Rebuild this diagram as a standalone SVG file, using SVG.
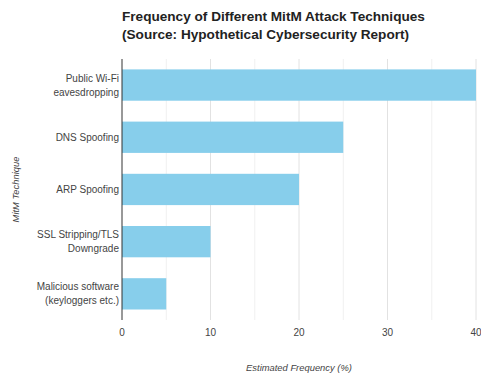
<svg xmlns="http://www.w3.org/2000/svg" width="481" height="374" viewBox="0 0 481 374">
  <style>
    text { font-family: "Liberation Sans", Arial, sans-serif; fill: #444; }
    .title { font-size: 13.6px; font-weight: bold; fill: #222; }
    .cat { font-size: 10px; text-anchor: end; }
    .tick { font-size: 10px; text-anchor: middle; }
    .axis-title { font-size: 9.4px; font-style: italic; text-anchor: middle; }
    .grid-major { stroke: #e2e2e2; stroke-width: 1; }
    .grid-minor { stroke: #f0f0f0; stroke-width: 1; }
    .bar { fill: #87ceeb; }
  </style>
  <rect width="481" height="374" fill="#fff"/>

  <g id="title">
    <text class="title" x="122" y="21">Frequency of Different MitM Attack Techniques</text>
    <text class="title" x="122" y="39">(Source: Hypothetical Cybersecurity Report)</text>
  </g>

  <!-- vertical gridlines every 5 units (10 units = 88.5px) -->
  <g id="grid">
    <line class="grid-minor" x1="166.25" y1="59" x2="166.25" y2="320"/>
    <line class="grid-major" x1="210.5" y1="59" x2="210.5" y2="320"/>
    <line class="grid-minor" x1="254.75" y1="59" x2="254.75" y2="320"/>
    <line class="grid-major" x1="299" y1="59" x2="299" y2="320"/>
    <line class="grid-minor" x1="343.25" y1="59" x2="343.25" y2="320"/>
    <line class="grid-major" x1="387.5" y1="59" x2="387.5" y2="320"/>
    <line class="grid-minor" x1="431.75" y1="59" x2="431.75" y2="320"/>
    <line class="grid-major" x1="476" y1="59" x2="476" y2="320"/>
  </g>

  <g id="bar-public-wifi">
    <rect class="bar" x="122" y="69.4" width="354" height="31.3"/>
    <text class="cat" x="119" y="81.5">Public Wi-Fi</text>
    <text class="cat" x="119" y="95.5">eavesdropping</text>
  </g>
  <g id="bar-dns">
    <rect class="bar" x="122" y="121.6" width="221.25" height="31.3"/>
    <text class="cat" x="119" y="141">DNS Spoofing</text>
  </g>
  <g id="bar-arp">
    <rect class="bar" x="122" y="173.8" width="177" height="31.3"/>
    <text class="cat" x="119" y="193">ARP Spoofing</text>
  </g>
  <g id="bar-ssl">
    <rect class="bar" x="122" y="226" width="88.5" height="31.3"/>
    <text class="cat" x="119" y="238">SSL Stripping/TLS</text>
    <text class="cat" x="119" y="252">Downgrade</text>
  </g>
  <g id="bar-malware">
    <rect class="bar" x="122" y="278.2" width="44.25" height="31.3"/>
    <text class="cat" x="119" y="290">Malicious software</text>
    <text class="cat" x="119" y="304">(keyloggers etc.)</text>
  </g>

  <g id="axes">
    <line x1="122" y1="59" x2="122" y2="320" stroke="#333" stroke-width="1"/>
    <text class="tick" x="122" y="336">0</text>
    <text class="tick" x="210.5" y="336">10</text>
    <text class="tick" x="299" y="336">20</text>
    <text class="tick" x="387.5" y="336">30</text>
    <text class="tick" x="476" y="336">40</text>
    <text class="axis-title" x="299" y="371">Estimated Frequency (%)</text>
    <text class="axis-title" transform="translate(19,189.5) rotate(-90)">MitM Technique</text>
  </g>
</svg>
